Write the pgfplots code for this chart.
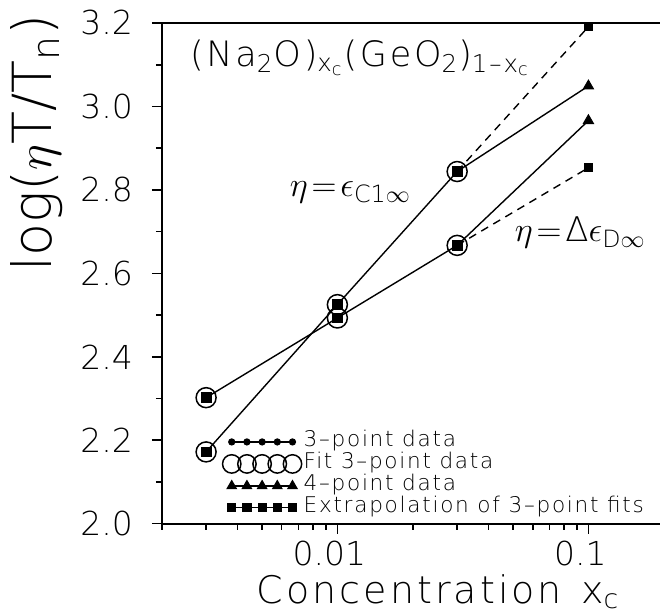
\documentclass[border=0pt]{standalone}
\usepackage{amsmath}
\usepackage{pgfplots}
\pgfplotsset{compat=1.18}
\usepackage{fontspec}
\setmainfont{DejaVu Sans ExtraLight}
\newfontfamily\legfont[LetterSpace=8]{DejaVu Sans ExtraLight}
\newfontfamily\widefont[LetterSpace=8]{DejaVu Sans ExtraLight}
\pgfplotsset{
  fivemarks/.style={legend image code/.code={%
    \draw[##1] plot coordinates {(0pt,0pt) (7.6pt,0pt) (15.2pt,0pt) (22.8pt,0pt) (30.4pt,0pt)};}},
}
\begin{document}
\begin{tikzpicture}
\begin{axis}[
  scale only axis,
  width=251.2pt, height=250.5pt,
  xmode=log, log basis x=10,
  xmin=0.002, xmax=0.2,
  ymin=2.0, ymax=3.2,
  clip=false,
  axis x line=box, axis y line=left,
  axis line style={-, line width=1pt},
  tick align=outside, tick pos=left,
  major tick length=5pt, minor tick length=3pt,
  every tick/.style={black, line width=0.8pt},
  xtick={0.01,0.1}, xticklabels={0.01,0.1},
  minor xtick={0.002,0.003,0.004,0.005,0.006,0.007,0.008,0.009,0.02,0.03,0.04,0.05,0.06,0.07,0.08,0.09,0.2},
  ytick={2.0,2.2,2.4,2.6,2.8,3.0,3.2},
  minor ytick={2.1,2.3,2.5,2.7,2.9,3.1},
  ticklabel style={font=\fontsize{16.5}{18}\selectfont},
  yticklabel style={/pgf/number format/fixed, /pgf/number format/fixed zerofill,
    /pgf/number format/precision=1, /pgf/number format/assume math mode=true, xshift=-6pt},
  xticklabel style={xshift=-4pt},
  ylabel={log($\eta$T/T$_{\text{n}}$)},
  ylabel style={at={(axis description cs:-0.249,0.76)}, anchor=center, font=\fontsize{27}{29}\selectfont},
  xlabel={Concentration\hspace{0.5em}x$_{\text{c}}$},
  xlabel style={at={(axis description cs:0.55,0)}, anchor=center, yshift=-34pt, font=\widefont\fontsize{19}{21}\selectfont},
  legend style={draw=none, fill=none, inner sep=0pt, at={(axis description cs:0.12,0.186)}, anchor=north west,
    font=\legfont\fontsize{10.8}{11}\selectfont, nodes={inner sep=1pt, text height=7pt, text depth=2pt}, row sep=0pt},
  legend cell align=left,
]
\coordinate (SW) at (rel axis cs:0,0);
\coordinate (NE) at (rel axis cs:1,1);
% solid lines
\addplot[forget plot, line width=0.7pt] coordinates {(0.003,2.172) (0.01,2.525) (0.03,2.844) (0.1,3.049)};
\addplot[forget plot, line width=0.7pt] coordinates {(0.003,2.302) (0.01,2.493) (0.03,2.667) (0.1,2.966)};
% dashed extrapolations
\addplot[forget plot, line width=0.7pt, dash pattern=on 4pt off 3pt] coordinates {(0.03,2.844) (0.1,3.191)};
\addplot[forget plot, line width=0.7pt, dash pattern=on 4pt off 3pt] coordinates {(0.03,2.667) (0.1,2.853)};
% fit circles
\addplot[forget plot, only marks, mark=o, mark size=5pt, mark options={line width=0.75pt}] coordinates {(0.003,2.172) (0.01,2.525) (0.03,2.844) (0.003,2.302) (0.01,2.493) (0.03,2.667)};
% data points
\addplot[forget plot, only marks, mark=square*, mark size=2.4pt] coordinates {(0.003,2.172) (0.01,2.525) (0.03,2.844) (0.003,2.302) (0.01,2.493) (0.03,2.667)};
% extrapolated
\addplot[forget plot, only marks, mark=square*, mark size=2pt] coordinates {(0.1,3.191) (0.1,2.853)};
% 4-point data
\addplot[forget plot, only marks, mark=triangle*, mark size=3pt] coordinates {(0.1,3.049) (0.1,2.966)};

\node[anchor=west, font=\widefont\fontsize{17.5}{19}\selectfont] at (rel axis cs:0.042,0.93)
  {(Na$_{\text{2}}$O)$_{\text{x}_{\text{c}}}$(GeO$_{\text{2}}$)$_{\text{1–x}_{\text{c}}}$};
\node[anchor=west, font=\fontsize{17}{19}\selectfont] at (rel axis cs:0.241,0.661) {$\eta\!=\!\epsilon_{\text{C1}\infty}$};
\node[anchor=west, font=\fontsize{17}{19}\selectfont] at (rel axis cs:0.689,0.581) {$\eta\!=\!\text{Δ}\epsilon_{\text{D}\infty}$};

\addlegendimage{fivemarks, black, line width=0.6pt, mark=*, mark size=1.5pt}
\addlegendentry{3–point data}
\addlegendimage{fivemarks, black, only marks, mark=o, mark size=4.6pt, mark options={line width=0.75pt}}
\addlegendentry{Fit 3–point data}
\addlegendimage{fivemarks, black, line width=0.6pt, mark=triangle*, mark size=2.6pt}
\addlegendentry{4–point data}
\addlegendimage{fivemarks, black, line width=0.6pt, mark=square*, mark size=2pt}
\addlegendentry{Extrapolation of 3–point fits}
\end{axis}
\pgfresetboundingbox
\path[use as bounding box] ([shift={(-81pt,-46pt)}]SW) rectangle ([shift={(-2pt,11.5pt)}]NE);
\end{tikzpicture}
\end{document}
